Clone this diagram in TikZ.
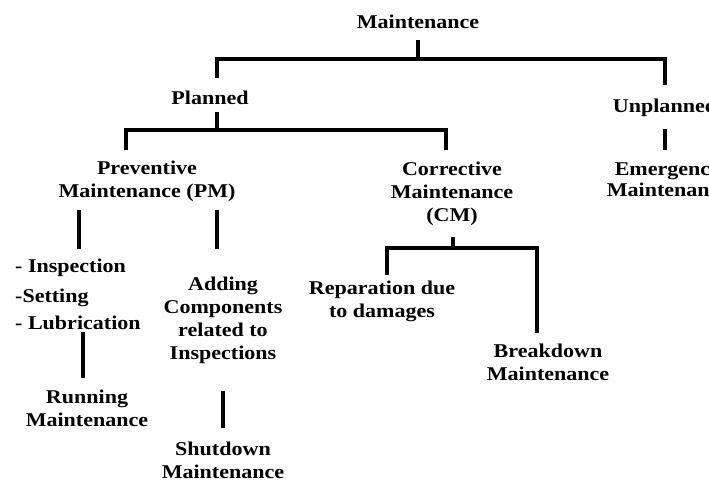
\documentclass[tikz,border=0pt]{standalone}
\usepackage{fontspec}
\setmainfont{Liberation Serif}[FakeStretch=1.13]
\usetikzlibrary{calc}

\begin{document}
\begin{tikzpicture}[x=1pt, y=-1pt,
    lbl/.style={inner sep=0pt, align=center, font=\fontsize{19.5}{23}\selectfont\bfseries},
    item/.style={lbl, anchor=west},
    link/.style={line width=4pt}]
    \useasboundingbox (0,0) rectangle (709,481);
    \clip (0,0) rectangle (709,481);

    % Labels
    \node[lbl] (maint) at (418,21.5) {Maintenance};
    \node[lbl] (plan) at (210,98) {Planned};
    \node[lbl] (unpl) at (665,108) {Unplanned};
    \node[lbl, font=\fontsize{19.5}{21}\selectfont\bfseries] (emer) at (668,180) {Emergency\\Maintenance};
    \node[lbl] (pm) at (147,181.5) {Preventive\\Maintenance (PM)};
    \node[lbl] (cm) at (452,193.5) {Corrective\\Maintenance\\(CM)};
    \node[item] (insp) at (15,268) {- Inspection};
    \node[item] (sett) at (15,298) {-Setting};
    \node[item] (lubr) at (15,323) {- Lubrication};
    \node[lbl] (adding) at (223,320) {Adding\\Components\\related to\\Inspections};
    \node[lbl] (run) at (87,408) {Running\\Maintenance};
    \node[lbl] (shut) at (223,460) {Shutdown\\Maintenance};
    \node[lbl] (repar) at (382,301.5) {Reparation due\\to damages};
    \node[lbl] (brk) at (548,362) {Breakdown\\Maintenance};

    % Junctions
    \coordinate (j1) at (418,59);
    \coordinate (j2) at (217,130);
    \coordinate (j3) at (453,248);

    % Connectors
    \draw[link] ($(maint)+(0,18.5)$) -- (j1);
    \draw[link] ($(plan)+(7,-20)$) |- (j1) -| ($(unpl)+(0,-23)$);
    \draw[link] ($(plan)+(7,14)$) -- (j2);
    \draw[link] ($(pm)+(-21,-31.5)$) |- (j2) -| ($(cm)+(-6,-43.5)$);
    \draw[link] ($(unpl)+(0,21)$) -- ($(emer)+(-3,-30)$);
    \draw[link] ($(pm)+(-68,28.5)$) -- ($(insp.west)+(64,-19)$);
    \draw[link] ($(pm)+(70,28.5)$) -- ($(adding)+(-6,-71)$);
    \draw[link] ($(lubr.west)+(68,9)$) -- ($(run)+(-4,-30)$);
    \draw[link] ($(adding)+(0,71)$) -- ($(shut)+(0,-32)$);
    \draw[link] ($(cm)+(1,43.5)$) -- (j3);
    \draw[link] ($(repar)+(5,-26.5)$) |- (j3) -| ($(brk)+(-11,-29)$);
\end{tikzpicture}
\end{document}
